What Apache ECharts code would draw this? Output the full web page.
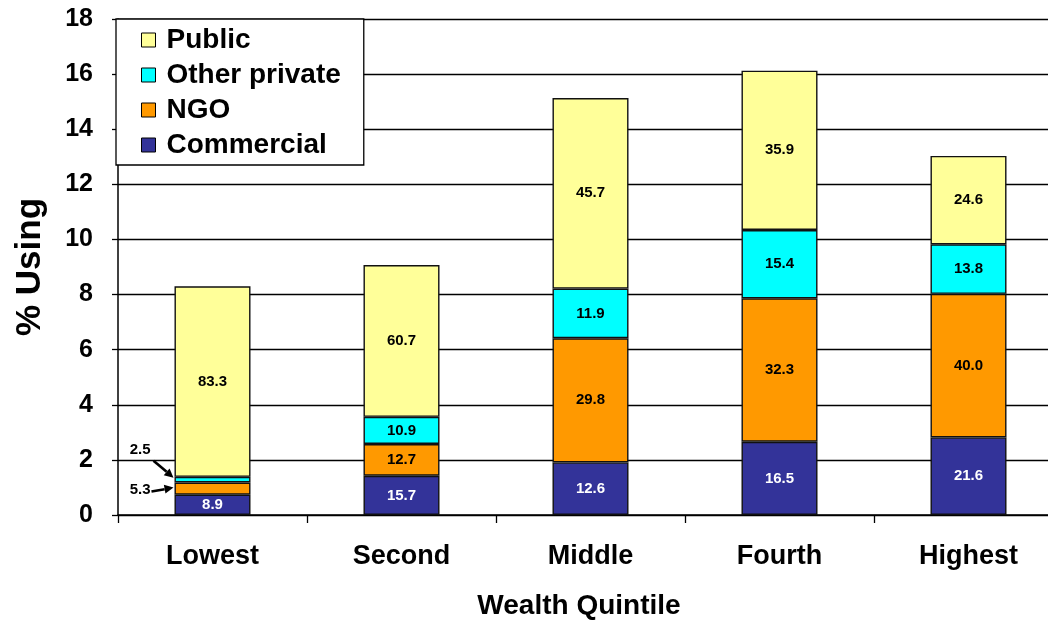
<!DOCTYPE html>
<html>
<head>
<meta charset="utf-8">
<script src="https://cdn.jsdelivr.net/npm/echarts@6/dist/echarts.min.js"></script>
<style>
  html, body { margin: 0; padding: 0; background: #fff; }
  #chart { width: 1048px; height: 620px; }
</style>
</head>
<body>
<div id="chart"></div>
<script>
// Wealth quintiles on the x axis
const quintiles = ['Lowest', 'Second', 'Middle', 'Fourth', 'Highest'];
// Overall % using, per quintile (bar height)
const totalUsing = [8.3, 9.07, 15.13, 16.11, 13.03];
// Share of users (%) by source, per quintile
const shareCommercial = [8.9, 15.7, 12.6, 16.5, 21.6];
const shareNGO = [5.3, 12.7, 29.8, 32.3, 40.0];
const shareOtherPrivate = [2.5, 10.9, 11.9, 15.4, 13.8];
const sharePublic = [83.3, 60.7, 45.7, 35.9, 24.6];
// Y axis range
const yMin = 0, yMax = 18, yStep = 2;

const FONT = 'Liberation Sans, Arial, sans-serif';

// segment height = overall use x share of that source
function segment(shares) {
  return shares.map((s, i) => ({ value: totalUsing[i] * s / 100, share: s }));
}

function seriesDef(name, shares, color, labelColor) {
  return {
    name: name,
    type: 'bar',
    stack: 'use',
    barWidth: 76,
    data: segment(shares),
    itemStyle: { color: color, borderColor: '#111', borderWidth: 1.4 },
    label: {
      show: true,
      position: 'inside',
      color: labelColor,
      fontFamily: FONT,
      fontWeight: 'bold',
      fontSize: 15,
      formatter: p => p.data.share.toFixed(1)
    }
  };
}

const sCommercial = seriesDef('Commercial', shareCommercial, '#333399', '#fff');
const sNGO = seriesDef('NGO', shareNGO, '#FF9900', '#000');
const sOther = seriesDef('Other private', shareOtherPrivate, '#00FFFF', '#000');
const sPublic = seriesDef('Public', sharePublic, '#FFFF99', '#000');

// thin slices in the lowest quintile get their labels pulled out to the left
sNGO.data[0].label = { position: 'left', offset: [-19, 1] };
sOther.data[0].label = { position: 'left', offset: [-19, -30] };

const chart = echarts.init(document.getElementById('chart'), null, { renderer: 'canvas' });

chart.setOption({
  animation: false,
  backgroundColor: '#fff',
  grid: { left: 118, right: -15, top: 19, bottom: 105, outerBoundsMode: 'none', containLabel: false },
  legend: {
    data: ['Public', 'Other private', 'NGO', 'Commercial'],
    orient: 'vertical',
    left: 116,
    top: 19,
    backgroundColor: '#fff',
    borderColor: '#000',
    borderWidth: 1.3,
    borderRadius: 0,
    padding: [6, 23, 5, 25],
    itemGap: 5,
    itemWidth: 14,
    itemHeight: 14,
    icon: 'rect',
    itemStyle: { borderColor: '#000', borderWidth: 1 },
    textStyle: { fontFamily: FONT, fontWeight: 'bold', fontSize: 28, color: '#000', lineHeight: 30, padding: [0, 0, 0, 6] },
    selectedMode: false
  },
  xAxis: {
    type: 'category',
    data: quintiles,
    boundaryGap: true,
    name: 'Wealth Quintile',
    nameLocation: 'middle',
    nameGap: 77,
    nameTextStyle: { fontFamily: FONT, fontWeight: 'bold', fontSize: 28, color: '#000', padding: [0, 23, 0, 0] },
    axisLine: { lineStyle: { color: '#000', width: 1.5 } },
    axisTick: { show: true, length: 8, lineStyle: { color: '#000', width: 1.3 } },
    axisLabel: { fontFamily: FONT, fontWeight: 'bold', fontSize: 27, color: '#000', margin: 28 }
  },
  yAxis: {
    type: 'value',
    min: yMin,
    max: yMax,
    interval: yStep,
    name: '% Using',
    nameLocation: 'middle',
    nameGap: 70,
    nameTextStyle: { fontFamily: FONT, fontWeight: 'bold', fontSize: 35, color: '#000' },
    axisLine: { show: true, lineStyle: { color: '#000', width: 1.5 } },
    axisTick: { show: true, length: 6, lineStyle: { color: '#000', width: 1.3 } },
    axisLabel: { fontFamily: FONT, fontWeight: 'bold', fontSize: 25, color: '#000', margin: 25 },
    splitLine: { show: true, lineStyle: { color: '#000', width: 1.4 } }
  },
  series: [sCommercial, sNGO, sOther, sPublic]
});

// leader arrows from the pulled-out labels to their slices
function arrow(from, to) {
  const dx = to[0] - from[0], dy = to[1] - from[1];
  const len = Math.sqrt(dx * dx + dy * dy);
  const ux = dx / len, uy = dy / len;
  const head = 9, half = 4.5;
  const bx = to[0] - ux * head, by = to[1] - uy * head;
  return [
    { type: 'line', shape: { x1: from[0], y1: from[1], x2: bx, y2: by },
      style: { stroke: '#000', lineWidth: 2.6 }, z: 10 },
    { type: 'polygon', shape: { points: [to, [bx - uy * half, by + ux * half], [bx + uy * half, by - ux * half]] },
      style: { fill: '#000' }, z: 10 }
  ];
}

const barHalf = 38;
const c0 = shareCommercial[0] * totalUsing[0] / 100;
const n0 = shareNGO[0] * totalUsing[0] / 100;
const o0 = shareOtherPrivate[0] * totalUsing[0] / 100;
const pNGO = chart.convertToPixel({ seriesIndex: 0 }, [quintiles[0], c0 + n0 / 2]);
const pOther = chart.convertToPixel({ seriesIndex: 0 }, [quintiles[0], c0 + n0 + o0 / 2]);
const edgeX = pNGO[0] - barHalf;

chart.setOption({
  graphic: [
    ...arrow([edgeX - 21, pOther[1] - 19], [edgeX - 1, pOther[1] - 2]),
    ...arrow([edgeX - 23, pNGO[1] + 3], [edgeX - 1, pNGO[1] - 1])
  ]
});
</script>
</body>
</html>
